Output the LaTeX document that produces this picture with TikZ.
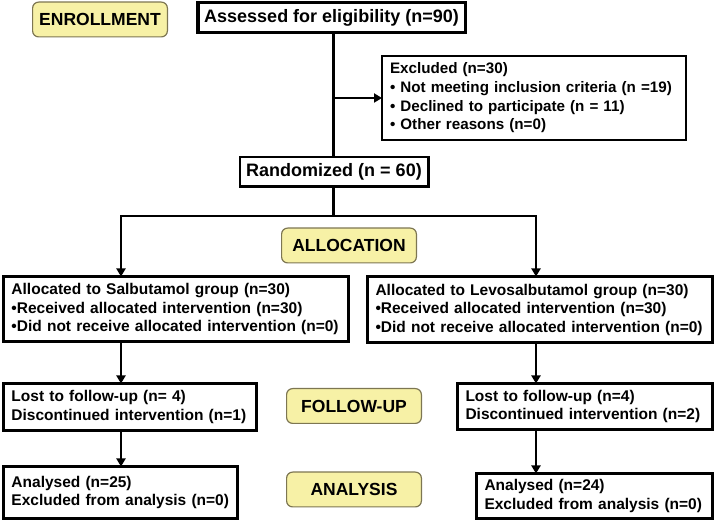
\documentclass[tikz,border=0pt]{standalone}
\usepackage{fontspec}
\setmainfont{Liberation Sans}
\usetikzlibrary{arrows.meta}
\definecolor{labfill}{RGB}{247,241,166}
\definecolor{labdraw}{RGB}{125,118,82}
\begin{document}
\begin{tikzpicture}[x=1pt,y=-1pt,
  every node/.style={font=\bfseries, outer sep=0pt},
  box/.style={draw=black, fill=white, line width=3pt, inner sep=0pt},
  leftbox/.style={box, align=left, inner xsep=8pt},
  labbox/.style={draw=labdraw, fill=labfill, line width=1.2pt, rounded corners=6pt,
    minimum width=134.8pt, minimum height=34.8pt, inner sep=0pt,
    font=\bfseries\fontsize{17.5}{20}\selectfont},
  conn/.style={line width=2.7pt},
  arr/.style={conn, -{Triangle[width=9pt,length=8pt]}},
  grp/.style={font=\bfseries\fontsize{15.5}{18.5}\selectfont}
]
\useasboundingbox (0,0) rectangle (716,521);

% stage labels
\node[labbox] (enr) at (100,19.5) {ENROLLMENT};
\node[labbox] (alloc) at (349,245.5) {ALLOCATION};
\node[labbox] (fup) at (354,406) {FOLLOW-UP};
\node[labbox] (ana) at (354,489.5) {ANALYSIS};

% main boxes
\node[box, line width=3.5pt, minimum width=267.5pt, minimum height=30pt,
  font=\bfseries\fontsize{18}{20}\selectfont] (assess) at (331.5,17.5) {Assessed for eligibility (n=90)};
\node[leftbox, line width=2pt, minimum width=304pt, minimum height=84pt,
  text width=288pt, font=\bfseries\fontsize{15.2}{18.7}\selectfont] (excl) at (534,98)
  {Excluded (n=30)\\
   \textbullet\ Not meeting inclusion criteria (n =19)\\
   \textbullet\ Declined to participate (n = 11)\\
   \textbullet\ Other reasons (n=0)};
\node[box, line width=2.5pt, minimum width=188.5pt, minimum height=29.5pt,
  font=\bfseries\fontsize{18}{20}\selectfont] (rand) at (334,172) {Randomized (n = 60)};

\node[leftbox, grp, minimum width=345pt, minimum height=65pt, text width=329pt] (allocL) at (176,309)
  {Allocated to Salbutamol group (n=30)\\
   \textbullet Received allocated intervention (n=30)\\
   \textbullet Did not receive allocated intervention (n=0)};
\node[leftbox, grp, minimum width=345pt, minimum height=66pt, text width=329pt] (allocR) at (540,309.5)
  {Allocated to Levosalbutamol group (n=30)\\
   \textbullet Received allocated intervention (n=30)\\
   \textbullet Did not receive allocated intervention (n=0)};

\node[leftbox, grp, minimum width=253pt, minimum height=47pt, text width=237pt] (lostL) at (130,407)
  {Lost to follow-up (n= 4)\\ Discontinued intervention (n=1)};
\node[leftbox, grp, minimum width=255pt, minimum height=46pt, text width=239pt] (lostR) at (585,406.5)
  {Lost to follow-up (n=4)\\ Discontinued intervention (n=2)};

\node[leftbox, grp, minimum width=234pt, minimum height=52pt, text width=218pt] (anaL) at (120.5,492.5)
  {Analysed (n=25)\\ Excluded from analysis (n=0)};
\node[leftbox, grp, minimum width=236pt, minimum height=45pt, text width=220pt] (anaR) at (594.5,496)
  {Analysed (n=24)\\ Excluded from analysis (n=0)};

% connectors
\coordinate (split) at (333.5,216);
\coordinate (brL) at (121,216);
\coordinate (brR) at (536,216);
\coordinate (colL) at (121,0);
\coordinate (colR) at (536,0);

\draw[conn] (split |- assess.south) -- (split |- rand.north);
\draw[arr] (split |- excl.west) -- (excl.west);
\draw[conn] (split |- rand.south) -- (split);
\draw[arr, line join=miter] (split) -- (brL) -- (colL |- allocL.north);
\draw[arr, line join=miter] (split) -- (brR) -- (colR |- allocR.north);
\draw[arr] (colL |- allocL.south) -- (colL |- lostL.north);
\draw[arr] (colL |- lostL.south) -- (colL |- anaL.north);
\draw[arr] (colR |- allocR.south) -- (colR |- lostR.north);
\draw[arr] (colR |- lostR.south) -- (colR |- anaR.north);
\end{tikzpicture}
\end{document}
